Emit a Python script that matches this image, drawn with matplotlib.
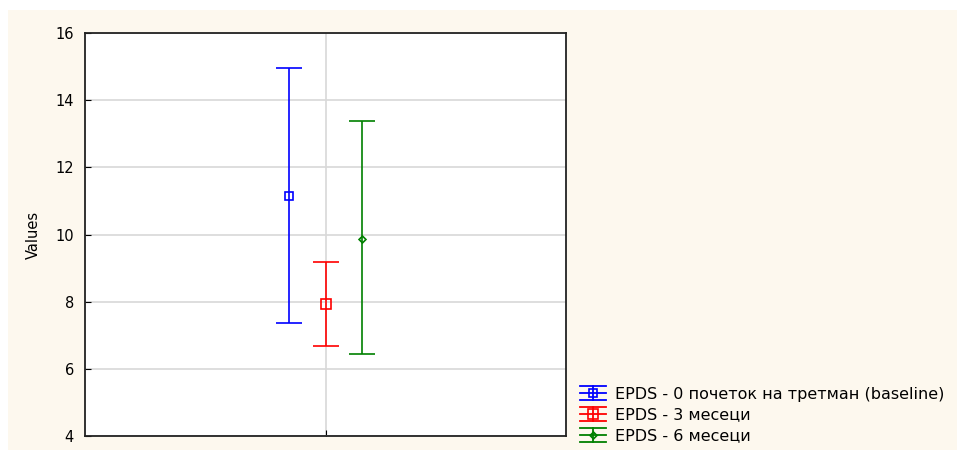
import matplotlib.pyplot as plt
from matplotlib.patches import Rectangle
from matplotlib.lines import Line2D
from matplotlib.legend_handler import HandlerBase

labels = ["EPDS - 0 почеток на третман (baseline)", "EPDS - 3 месеци", "EPDS - 6 месеци"]
means = [11.15, 7.94, 9.88]
lower = [7.37, 6.68, 6.45]
upper = [14.96, 9.19, 13.37]
colors = ["#0000ff", "#ff0000", "#008000"]
markers = ["s", "s", "D"]
msizes = [5.5, 6.5, 3.5]
xpos = [-0.15, 0.0, 0.15]

plt.rcParams['font.family'] = ['DejaVu Sans']


class HandlerEB(HandlerBase):
    # legend key: three horizontal bars, a vertical bar and the marker
    def create_artists(self, legend, orig_handle, xdescent, ydescent, width, height, fontsize, trans):
        ln = orig_handle[0]
        c = ln.get_color()
        x0, x1 = -xdescent, -xdescent + width
        y0, y1 = -ydescent, -ydescent + height
        ym = (y0 + y1) / 2
        xm = (x0 + x1) / 2
        arts = []
        for y in (y0, ym, y1):
            arts.append(Line2D([x0, x1], [y, y], color=c, lw=1.3))
        arts.append(Line2D([xm, xm], [y0, y1], color=c, lw=1.3))
        arts.append(Line2D([xm], [ym], marker=ln.get_marker(), ms=ln.get_markersize(),
                           mfc="none", mec=c, mew=1.2, ls="none"))
        for a in arts:
            a.set_transform(trans)
        return arts


fig = plt.figure(figsize=(9.57, 4.5), dpi=100)
fig.patch.set_facecolor("white")
fig.patches.append(Rectangle((8 / 957, 0), 1, 440 / 450, transform=fig.transFigure,
                             facecolor="#fdf8ee", edgecolor="none", zorder=-10))

ax = fig.add_axes([85 / 957, 14 / 450, 481 / 957, 403 / 450])
ax.set_facecolor("white")

handles = []
for x, m, lo, hi, c, mk, ms, lab in zip(xpos, means, lower, upper, colors, markers, msizes, labels):
    h = ax.errorbar([x], [m], yerr=[[m - lo], [hi - m]], fmt=mk, color=c, mfc="none",
                    mec=c, ms=ms, mew=1.2, ecolor=c, elinewidth=1.2, capsize=9.5,
                    capthick=1.2, label=lab)
    handles.append(h)

ax.set_xlim(-1, 1)
ax.set_ylim(4, 16)
ax.set_yticks([4, 6, 8, 10, 12, 14, 16])
ax.set_xticks([0])
ax.set_xticklabels([""])
ax.grid(True, color="#d8d8d8", linewidth=1.2)
ax.set_axisbelow(True)
ax.tick_params(axis="y", labelsize=10.5, length=4, direction="in", pad=8)
ax.tick_params(axis="x", length=4, direction="in")
for s in ax.spines.values():
    s.set_linewidth(1.3)
    s.set_color("#222222")
ax.set_ylabel("Values", fontsize=10.5, labelpad=10)

fig.legend(handles=handles, handler_map={type(handles[0]): HandlerEB()},
           loc="lower left", bbox_to_anchor=(574 / 957, 0.0),
           frameon=False, fontsize=11.5, handlelength=1.6, handleheight=0.95,
           handletextpad=0.55, labelspacing=0.35, borderaxespad=0.0)

fig.savefig("out.png", dpi=100)
